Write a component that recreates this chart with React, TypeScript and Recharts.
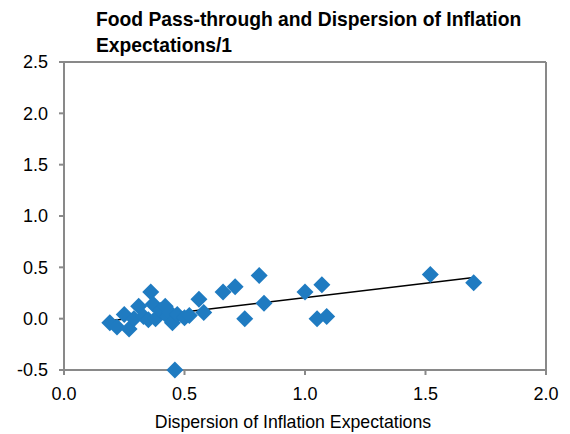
import React from "react"
import { ScatterChart, Scatter, XAxis, YAxis, ReferenceLine } from "recharts"

const xValues = [0.19, 0.22, 0.25, 0.27, 0.29, 0.31, 0.33, 0.36, 0.35, 0.37, 0.38, 0.40, 0.42, 0.43, 0.44, 0.45, 0.46, 0.47, 0.50, 0.52, 0.56, 0.58, 0.66, 0.71, 0.75, 0.81, 0.83, 1.0, 1.05, 1.07, 1.09, 1.52, 1.70]
const yValues = [-0.04, -0.08, 0.04, -0.10, 0.0, 0.12, 0.02, 0.26, -0.01, 0.14, 0.0, 0.08, 0.12, 0.02, 0.06, -0.04, -0.50, 0.04, 0.01, 0.03, 0.19, 0.06, 0.26, 0.31, 0.0, 0.42, 0.15, 0.26, 0.0, 0.33, 0.02, 0.43, 0.35]

// linear fit end points
const trendX = [0.19, 1.70]
const trendY = [-0.02, 0.40]

const xTicks = [0, 0.5, 1.0, 1.5, 2.0]
const yTicks = [-0.5, 0, 0.5, 1.0, 1.5, 2.0, 2.5]

const points = xValues.map((x, i) => ({ x, y: yValues[i] }))
const trend = trendX.map((x, i) => ({ x, y: trendY[i] }))

const font = "'Liberation Sans', Arial, sans-serif"
const axisColor = "#898989"
const tickStyle = { fontSize: 18, fill: "#000", fontFamily: font }

const Diamond = (props: any) => {
  const { cx, cy } = props
  const r = 8.5
  return (
    <polygon
      points={`${cx},${cy - r} ${cx + r},${cy} ${cx},${cy + r} ${cx - r},${cy}`}
      fill="#1F7BC1"
    />
  )
}

export default function App() {
  return (
    <div style={{ position: "absolute", left: 0, top: 0, width: 570, height: 434, background: "#fff" }}>
      <div
        style={{
          position: "absolute",
          left: 96,
          top: 7,
          fontFamily: font,
          fontWeight: "bold",
          fontSize: 19.3,
          lineHeight: "26px",
          color: "#000",
          whiteSpace: "nowrap",
        }}
      >
        Food Pass-through and Dispersion of Inflation
        <br />
        Expectations/1
      </div>
      <ScatterChart width={570} height={434} margin={{ top: 62, right: 24, bottom: 0, left: 0 }}>
        <XAxis
          type="number"
          dataKey="x"
          domain={[0, 2]}
          ticks={xTicks}
          tickFormatter={(v: number) => v.toFixed(1)}
          height={64}
          tick={tickStyle}
          tickSize={5}
          tickMargin={12}
          axisLine={{ stroke: axisColor, strokeWidth: 2 }}
          tickLine={{ stroke: axisColor, strokeWidth: 2 }}
          label={{
            value: "Dispersion of Inflation Expectations",
            position: "insideBottom",
            offset: 6,
            dx: -12,
            style: { fontSize: 17.7, fill: "#000", fontFamily: font },
          }}
        />
        <YAxis
          type="number"
          dataKey="y"
          domain={[-0.5, 2.5]}
          ticks={yTicks}
          tickFormatter={(v: number) => v.toFixed(1)}
          width={64}
          tick={tickStyle}
          tickSize={5}
          tickMargin={11}
          axisLine={{ stroke: axisColor, strokeWidth: 2 }}
          tickLine={{ stroke: axisColor, strokeWidth: 2 }}
        />
        <ReferenceLine y={2.5} stroke={axisColor} strokeWidth={2} />
        <ReferenceLine x={2} stroke={axisColor} strokeWidth={2} />
        <Scatter data={points} shape={Diamond} isAnimationActive={false} />
        <ReferenceLine segment={trend} stroke="#000" strokeWidth={1.5} />
      </ScatterChart>
    </div>
  )
}
